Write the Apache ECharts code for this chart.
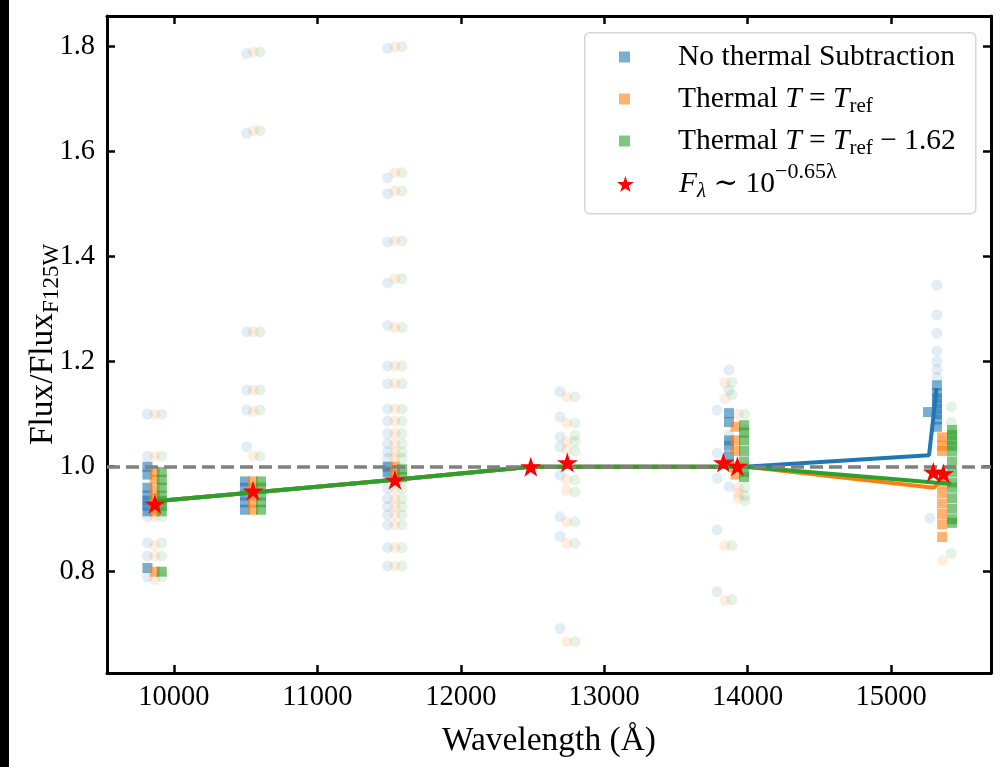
<!DOCTYPE html>
<html>
<head>
<meta charset="utf-8">
<title>Flux / Flux F125W</title>
<script src="https://cdn.jsdelivr.net/npm/echarts@6/dist/echarts.min.js"></script>
<style>
    html, body { margin: 0; padding: 0; background: #fff; }
    #echart_flux { width: 1003px; height: 767px; }
</style>
</head>
<body>
<div id="echart_flux"></div>
<script>
// 刻度
var xTicks = [10000, 11000, 12000, 13000, 14000, 15000];
var yTicks = [0.8, 1.0, 1.2, 1.4, 1.6, 1.8];

// 模型星点 (波长, 比值)
var starWave = [9867, 10551, 11541, 12488, 12743, 13831, 13929, 15295, 15365];
var starFlux = [0.929, 0.954, 0.975, 1.0, 1.008, 1.008, 1.001, 0.990, 0.987];

// 淡色圆点: [波长, [比值...]]
var blueCircles = [
    [9815, [1.10, 1.02, 0.905, 0.855, 0.83, 0.79]],
    [10507, [1.787, 1.635, 1.257, 1.146, 1.108, 1.038]],
    [11490, [1.797, 1.55, 1.52, 1.428, 1.35, 1.269, 1.192, 1.158, 1.11, 1.087, 1.063, 1.044, 1.028, 1.016, 0.997, 0.978, 0.958, 0.939, 0.924, 0.908, 0.889, 0.846, 0.811]],
    [12692, [1.143, 1.095, 1.057, 1.038, 0.984, 0.905, 0.867, 0.692]],
    [13787, [1.108, 1.026, 0.978, 0.88, 0.762]],
    [13870, [1.184, 1.146, 1.06, 0.962]],
    [15270, [0.902]],
    [15320, [1.346, 1.289, 1.254, 1.22, 1.2, 1.185, 1.17]]
];
var orangeCircles = [
    [9865, [1.10, 1.02, 0.905, 0.85, 0.83, 0.785]],
    [10553, [1.79, 1.64, 1.257, 1.146, 1.105, 1.02]],
    [11540, [1.80, 1.56, 1.525, 1.43, 1.358, 1.265, 1.192, 1.158, 1.11, 1.087, 1.063, 1.044, 1.028, 1.016, 0.997, 0.978, 0.958, 0.939, 0.924, 0.908, 0.889, 0.846, 0.811]],
    [12738, [1.133, 1.083, 1.048, 1.032, 0.975, 0.955, 0.895, 0.854, 0.667]],
    [13840, [1.16, 1.13, 0.85, 0.745]],
    [13935, [1.1, 1.0, 0.96, 0.95, 0.94]],
    [15360, [1.05, 0.822]]
];
var greenCircles = [
    [9915, [1.10, 1.02, 0.905, 0.855, 0.83, 0.79]],
    [10600, [1.79, 1.64, 1.257, 1.146, 1.108, 1.02]],
    [11590, [1.80, 1.56, 1.525, 1.43, 1.358, 1.265, 1.192, 1.158, 1.11, 1.087, 1.063, 1.044, 1.028, 1.016, 0.997, 0.978, 0.958, 0.939, 0.924, 0.908, 0.889, 0.846, 0.811]],
    [12796, [1.133, 1.083, 1.06, 1.048, 1.03, 0.975, 0.952, 0.895, 0.854, 0.667]],
    [13890, [1.161, 1.137, 0.85, 0.747]],
    [13980, [1.1, 1.07, 1.0, 0.96, 0.945, 0.935]],
    [15420, [1.114, 1.084, 1.063, 0.835]]
];

// 方块点
var blueSquares = [
    [9815, [1.0, 0.985, 0.96, 0.945, 0.935, 0.925, 0.915, 0.807]],
    [10495, [0.972, 0.96, 0.945, 0.932, 0.918]],
    [11490, [1.0, 0.99]],
    [13870, [1.102, 1.085, 1.05, 1.04, 1.02, 1.005]],
    [15258, [1.104]],
    [15320, [1.155, 1.14, 1.13, 1.12, 1.11, 1.1, 1.09, 1.076]]
];
var orangeSquares = [
    [9865, [0.99, 0.975, 0.955, 0.94, 0.93, 0.92, 0.915, 0.80]],
    [10551, [0.972, 0.96, 0.945, 0.932, 0.918]],
    [11540, [1.0, 0.985]],
    [13915, [1.076, 1.05, 1.03, 1.0, 0.985]],
    [15356, [1.056, 1.04, 1.03, 0.968, 0.95, 0.93, 0.91, 0.89, 0.866]]
];
var greenSquares = [
    [9915, [0.99, 0.975, 0.96, 0.945, 0.935, 0.925, 0.915, 0.80]],
    [10607, [0.972, 0.96, 0.945, 0.932, 0.918]],
    [11590, [0.995, 0.98]],
    [13975, [1.079, 1.065, 1.05, 1.03, 1.01, 0.99, 0.98]],
    [15425, [1.07, 1.06, 1.05, 1.04, 1.03, 1.01, 0.99, 0.97, 0.96, 0.94, 0.92, 0.9, 0.893]]
];

// 中位数连线
var blueLine = [[9867, 0.934], [10551, 0.951], [11541, 0.975], [12488, 1.0], [13980, 1.0], [15265, 1.022], [15318, 1.15]];
var orangeLine = [[9867, 0.934], [10551, 0.951], [11541, 0.975], [12488, 1.0], [13990, 1.0], [15300, 0.96], [15345, 0.975]];
var greenLine = [[9867, 0.934], [10551, 0.951], [11541, 0.975], [12488, 1.0], [13990, 1.0], [15300, 0.97], [15420, 0.968]];

var NAME_BLUE = 'No thermal Subtraction';
var NAME_ORANGE = 'Thermal T = T_ref';
var NAME_GREEN = 'Thermal T = T_ref - 1.62';
var NAME_STAR = 'F_lambda ~ 10^(-0.65 lambda)';

initFluxChart();

function expand(groups) {
    var out = [];
    groups.forEach(function (g) {
        g[1].forEach(function (v) {
            out.push([g[0], v]);
        });
    });
    return out;
}

function initFluxChart() {
    var myChart = echarts.init(document.getElementById('echart_flux'));
    var serif = "'Liberation Serif', 'DejaVu Serif', serif";
    var starPath = 'path://M0,-100L22.45,-30.9L95.1,-30.9L36.3,11.8L58.8,80.9L0,38.2L-58.8,80.9L-36.3,11.8L-95.1,-30.9L-22.45,-30.9Z';

    var richText = {
        i: {fontFamily: serif, fontSize: 29.5, fontStyle: 'italic', color: '#000'},
        sub: {fontFamily: serif, fontSize: 21, padding: [14, 0, 0, 0], color: '#000'},
        subi: {fontFamily: serif, fontSize: 21, fontStyle: 'italic', padding: [14, 0, 0, 0], color: '#000'},
        sup: {fontFamily: serif, fontSize: 22, padding: [0, 0, 24, 0], color: '#000'}
    };
    var labels = {};
    labels[NAME_BLUE] = 'No thermal Subtraction';
    labels[NAME_ORANGE] = 'Thermal {i|T} = {i|T}{sub|ref}';
    labels[NAME_GREEN] = 'Thermal {i|T} = {i|T}{sub|ref} \u2212 1.62';
    labels[NAME_STAR] = '{i|F}{subi|\u03bb} \u223c 10{sup|\u22120.65\u03bb}';

    function legendRow(name, top, w, h, pad) {
        return {
            data: [name],
            left: 619 - (w > 11 ? 2 : 0),
            top: top,
            orient: 'vertical',
            itemWidth: w,
            itemHeight: h,
            selectedMode: false,
            padding: 0,
            formatter: function (n) { return labels[n]; },
            textStyle: {fontFamily: serif, fontSize: 29.5, color: '#000', padding: [0, 0, 0, pad], rich: richText}
        };
    }

    var axisLineStyle = {show: true, lineStyle: {color: '#000', width: 3}};
    var tickStyle = {inside: true, length: 8, lineStyle: {color: '#000', width: 2.5}};

    var option = {
        animation: false,
        backgroundColor: '#fff',
        grid: {left: 107, right: 12, top: 16, bottom: 94},
        graphic: [
            {type: 'rect', left: 0, top: 0, shape: {width: 9, height: 767}, style: {fill: '#000'}},
            {type: 'rect', left: 584, top: 32, z: 0, shape: {width: 391, height: 181, r: 5}, style: {fill: 'rgba(255,255,255,0.8)', stroke: '#d6d6d6', lineWidth: 1.5}}
        ],
        legend: [
            legendRow(NAME_BLUE, 42, 11, 11, 43),
            legendRow(NAME_ORANGE, 84, 11, 11, 43),
            legendRow(NAME_GREEN, 126, 11, 11, 43),
            legendRow(NAME_STAR, 161, 17, 16, 40)
        ],
        xAxis: [
            {
                type: 'value', min: 9533, max: 15697, position: 'bottom',
                name: 'Wavelength (\u00c5)', nameLocation: 'middle', nameGap: 51,
                nameTextStyle: {fontFamily: serif, fontSize: 33.5, color: '#000'},
                axisLine: axisLineStyle,
                axisTick: echarts.util.merge({customValues: xTicks}, tickStyle),
                axisLabel: {
                    customValues: xTicks, margin: 10, fontFamily: serif, fontSize: 28.5, color: '#000',
                    formatter: function (v) { return String(v); }
                },
                splitLine: {show: false}
            },
            {
                type: 'value', min: 9533, max: 15697, position: 'top',
                axisLine: axisLineStyle,
                axisTick: echarts.util.merge({customValues: xTicks}, tickStyle),
                axisLabel: {show: false},
                splitLine: {show: false}
            }
        ],
        yAxis: [
            {
                type: 'value', min: 0.607, max: 1.8585, position: 'left',
                name: 'Flux/Flux{sub|F125W}', nameLocation: 'middle', nameGap: 44, nameRotate: 90,
                nameMoveOverlap: false,
                nameTextStyle: {
                    fontFamily: serif, fontSize: 33.5, color: '#000',
                    rich: {sub: {fontFamily: serif, fontSize: 23, padding: [16, 0, 0, 0], color: '#000'}}
                },
                axisLine: axisLineStyle,
                axisTick: echarts.util.merge({customValues: yTicks}, tickStyle),
                axisLabel: {
                    customValues: yTicks, margin: 12, fontFamily: serif, fontSize: 28.5, color: '#000',
                    formatter: function (v) { return v.toFixed(1); }
                },
                splitLine: {show: false}
            },
            {
                type: 'value', min: 0.607, max: 1.8585, position: 'right',
                axisLine: axisLineStyle,
                axisTick: echarts.util.merge({customValues: yTicks}, tickStyle),
                axisLabel: {show: false},
                splitLine: {show: false}
            }
        ],
        series: [
            // 淡色圆点
            {name: 'blue_c', type: 'scatter', symbol: 'circle', symbolSize: 11, z: 1, data: expand(blueCircles), itemStyle: {color: '#1f77b4', opacity: 0.13}},
            {name: 'orange_c', type: 'scatter', symbol: 'circle', symbolSize: 11, z: 1, data: expand(orangeCircles), itemStyle: {color: '#ff7f0e', opacity: 0.13}},
            {name: 'green_c', type: 'scatter', symbol: 'circle', symbolSize: 11, z: 1, data: expand(greenCircles), itemStyle: {color: '#2ca02c', opacity: 0.13}},
            // 方块
            {name: NAME_BLUE, type: 'scatter', symbol: 'rect', symbolSize: 10, z: 2, data: expand(blueSquares), itemStyle: {color: '#1f77b4', opacity: 0.6}},
            {name: NAME_ORANGE, type: 'scatter', symbol: 'rect', symbolSize: 10, z: 2, data: expand(orangeSquares), itemStyle: {color: '#ff7f0e', opacity: 0.6}},
            {name: NAME_GREEN, type: 'scatter', symbol: 'rect', symbolSize: 10, z: 2, data: expand(greenSquares), itemStyle: {color: '#2ca02c', opacity: 0.6}},
            // 参考线 y = 1
            {
                name: 'ref', type: 'line', data: [], z: 3,
                markLine: {
                    silent: true, symbol: 'none', label: {show: false},
                    lineStyle: {color: '#808080', width: 3.5, type: [13, 6]},
                    data: [{yAxis: 1}]
                }
            },
            // 连线
            {name: 'blue_l', type: 'line', symbol: 'none', z: 4, data: blueLine, lineStyle: {color: '#1f77b4', width: 4}},
            {name: 'orange_l', type: 'line', symbol: 'none', z: 4, data: orangeLine, lineStyle: {color: '#ff7f0e', width: 4}},
            {name: 'green_l', type: 'line', symbol: 'none', z: 4, data: greenLine, lineStyle: {color: '#2ca02c', width: 4}},
            // 模型
            {
                name: NAME_STAR, type: 'scatter', symbol: starPath, symbolSize: [21, 20], z: 6,
                data: starWave.map(function (w, i) { return [w, starFlux[i]]; }),
                itemStyle: {color: '#ff0000', opacity: 1}
            }
        ]
    };

    myChart.setOption(option);
}
</script>
</body>
</html>
